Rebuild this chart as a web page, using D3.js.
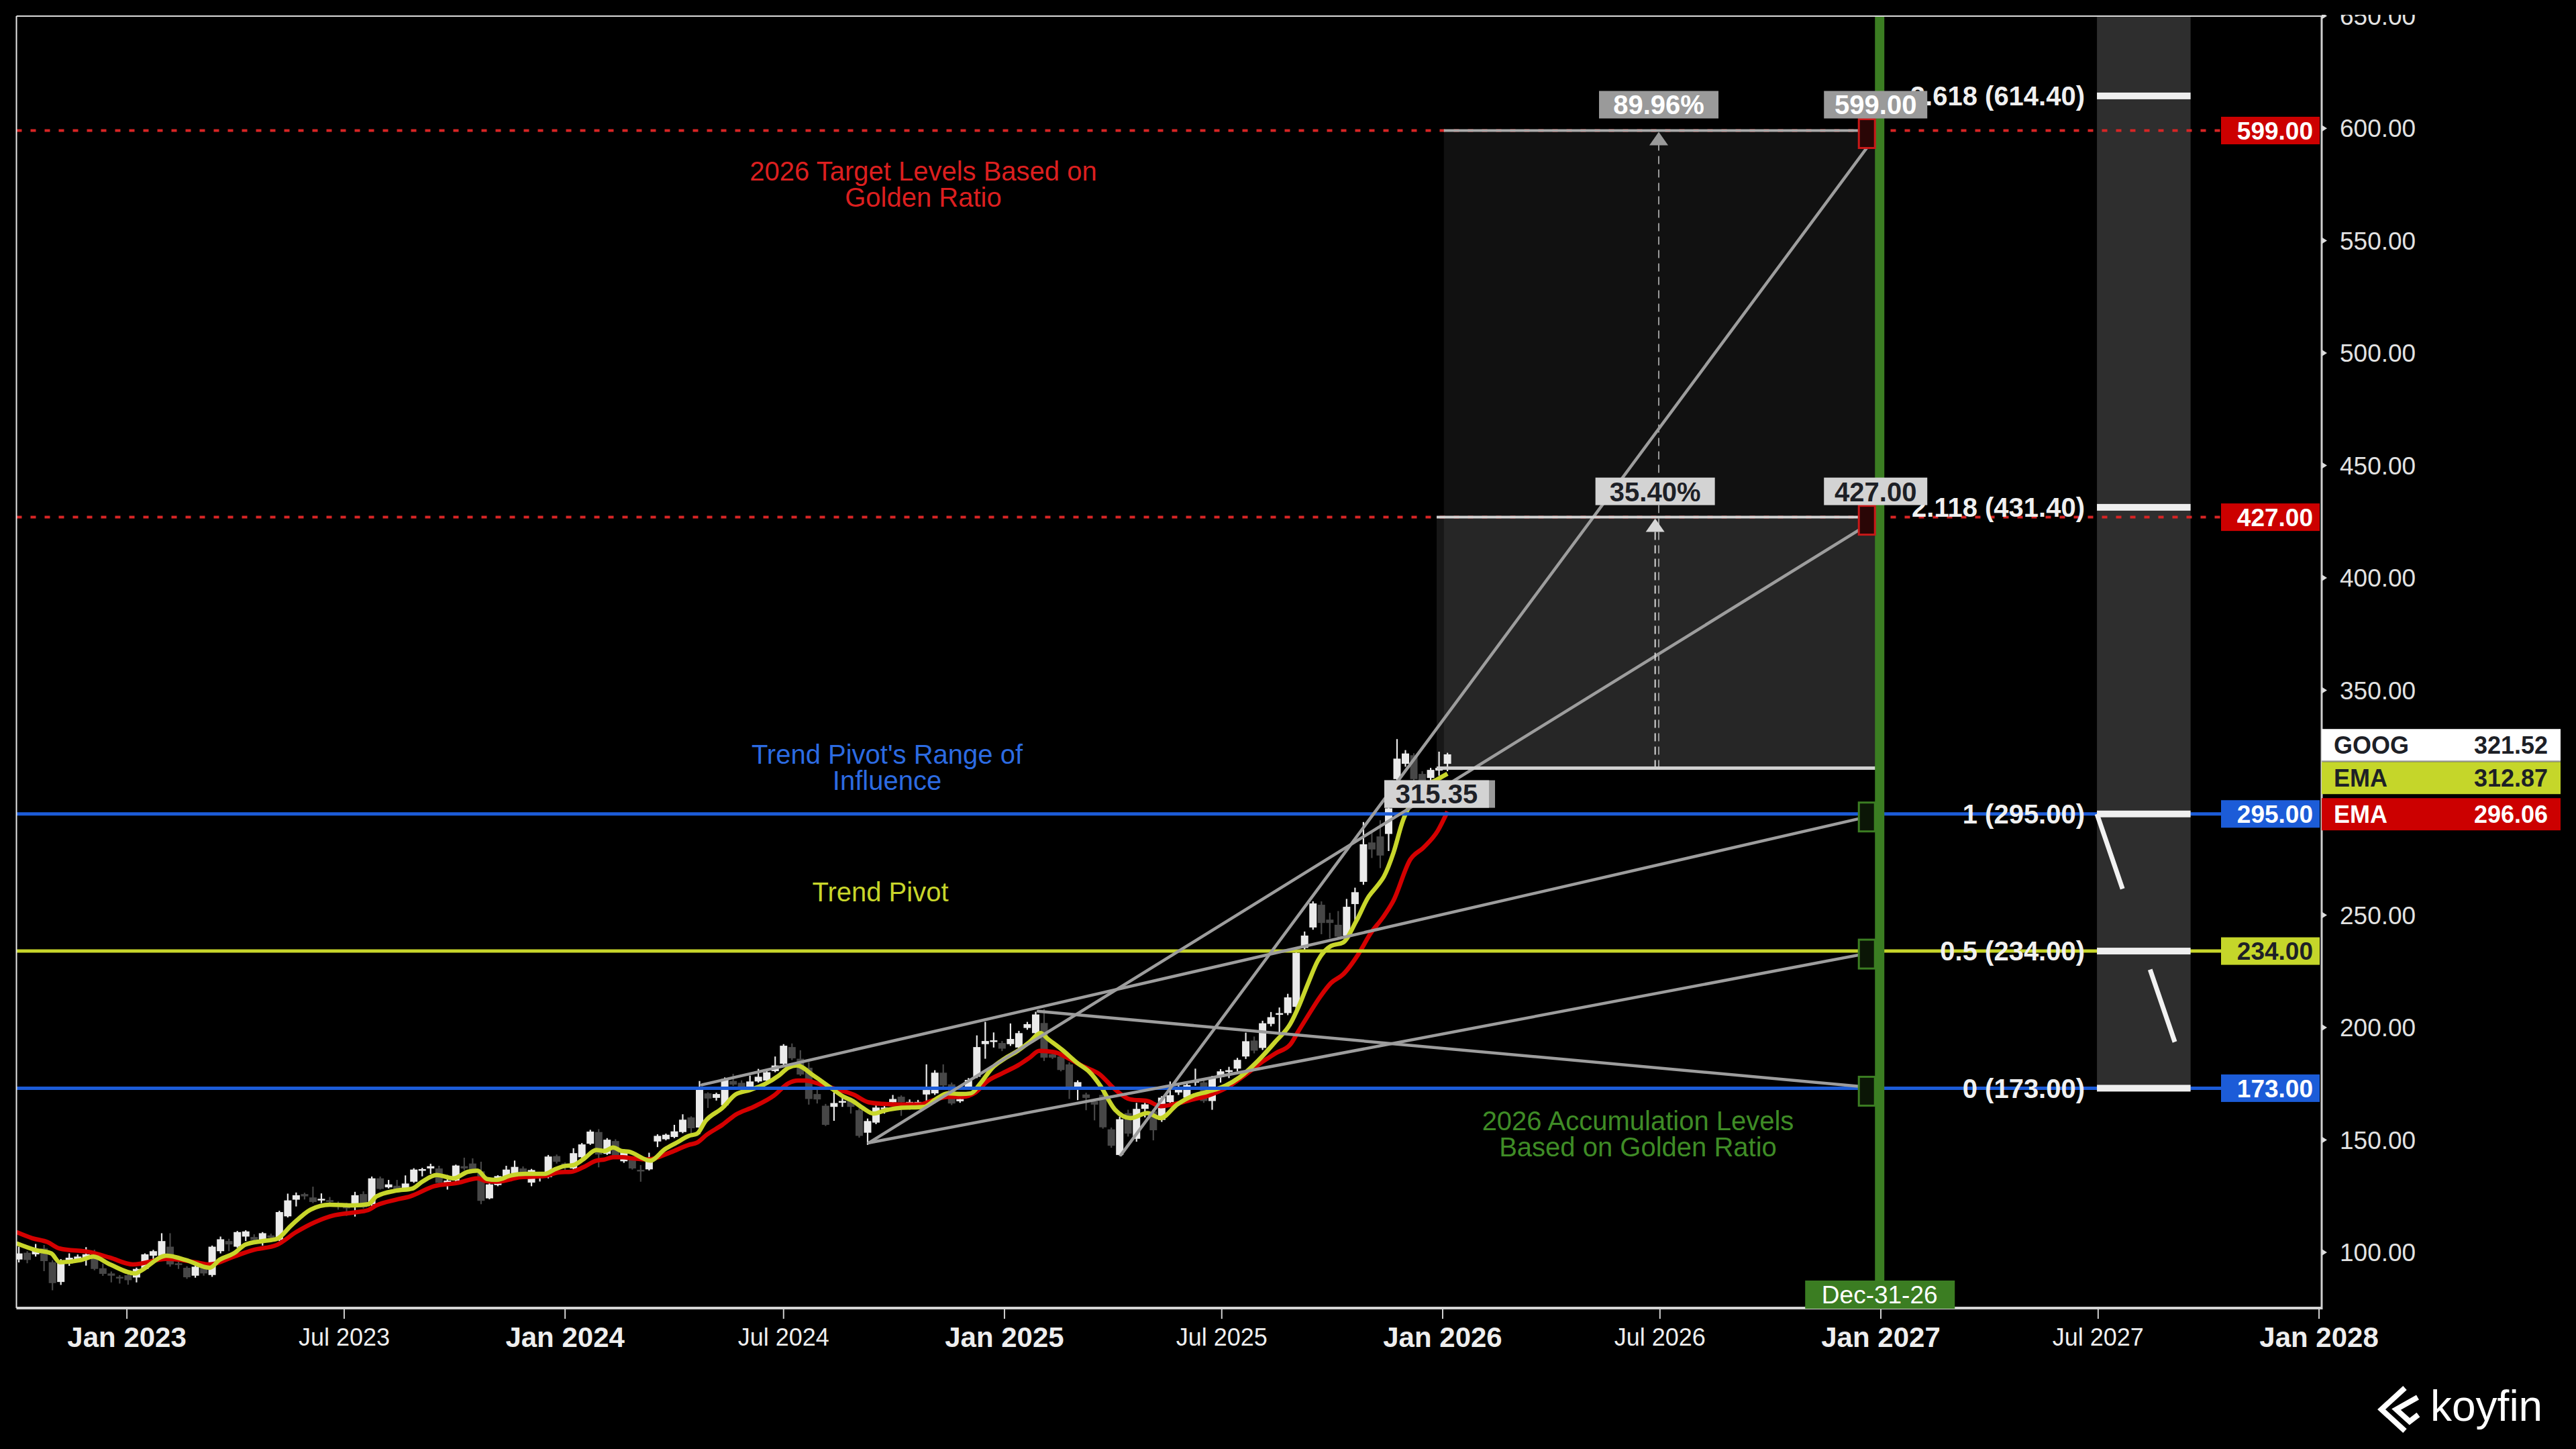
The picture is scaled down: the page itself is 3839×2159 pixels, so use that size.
<!DOCTYPE html>
<html><head><meta charset="utf-8">
<script src="https://cdn.jsdelivr.net/npm/d3@7"></script>
<style>html,body{margin:0;padding:0;background:#000;overflow:hidden}svg{display:block}</style>
</head><body>
<svg id="chart" width="3839" height="2159"></svg>
<script>
// ---------------- DATA ----------------
const candleDates = [
"2022-10-03","2022-10-10","2022-10-17","2022-10-24","2022-10-31","2022-11-07","2022-11-14","2022-11-21","2022-11-28","2022-12-05","2022-12-12","2022-12-19","2022-12-26",
"2023-01-02","2023-01-09","2023-01-16","2023-01-23","2023-01-30","2023-02-06","2023-02-13","2023-02-20","2023-02-27","2023-03-06","2023-03-13","2023-03-20","2023-03-27","2023-04-03","2023-04-10","2023-04-17","2023-04-24","2023-05-01","2023-05-08","2023-05-15","2023-05-22","2023-05-29","2023-06-05","2023-06-12","2023-06-19","2023-06-26","2023-07-03","2023-07-10","2023-07-17","2023-07-24","2023-07-31","2023-08-07","2023-08-14","2023-08-21","2023-08-28","2023-09-04","2023-09-11","2023-09-18","2023-09-25","2023-10-02","2023-10-09","2023-10-16","2023-10-23","2023-10-30","2023-11-06","2023-11-13","2023-11-20","2023-11-27","2023-12-04","2023-12-11","2023-12-18","2023-12-25",
"2024-01-01","2024-01-08","2024-01-15","2024-01-22","2024-01-29","2024-02-05","2024-02-12","2024-02-19","2024-02-26","2024-03-04","2024-03-11","2024-03-18","2024-03-25","2024-04-01","2024-04-08","2024-04-15","2024-04-22","2024-04-29","2024-05-06","2024-05-13","2024-05-20","2024-05-27","2024-06-03","2024-06-10","2024-06-17","2024-06-24","2024-07-01","2024-07-08","2024-07-15","2024-07-22","2024-07-29","2024-08-05","2024-08-12","2024-08-19","2024-08-26","2024-09-02","2024-09-09","2024-09-16","2024-09-23","2024-09-30","2024-10-07","2024-10-14","2024-10-21","2024-10-28","2024-11-04","2024-11-11","2024-11-18","2024-11-25","2024-12-02","2024-12-09","2024-12-16","2024-12-23","2024-12-30",
"2025-01-06","2025-01-13","2025-01-20","2025-01-27","2025-02-03","2025-02-10","2025-02-17","2025-02-24","2025-03-03","2025-03-10","2025-03-17","2025-03-24","2025-03-31","2025-04-07","2025-04-14","2025-04-21","2025-04-28","2025-05-05","2025-05-12","2025-05-19","2025-05-26","2025-06-02","2025-06-09","2025-06-16","2025-06-23","2025-06-30","2025-07-07","2025-07-14","2025-07-21","2025-07-28","2025-08-04","2025-08-11","2025-08-18","2025-08-25","2025-09-01","2025-09-08","2025-09-15","2025-09-22","2025-09-29","2025-10-06","2025-10-13","2025-10-20","2025-10-27","2025-11-03","2025-11-10","2025-11-17","2025-11-24","2025-12-01","2025-12-08","2025-12-15","2025-12-22","2025-12-29",
"2026-01-05"];

const opens = [96.8,99.8,99.1,101.7,95.6,86.8,95.1,96.6,97.1,99.7,92.9,90.6,89.1,
89.8,88.8,92.6,98.5,98.5,102.5,95.1,93.1,89.6,94.1,89.9,100.5,105.0,102.5,107.0,106.8,105.5,107.5,105.5,116.0,123.4,125.9,124.4,123.4,123.2,121.8,120.3,120.4,125.9,121.4,132.9,128.9,129.6,128.4,131.4,136.6,137.3,137.3,130.9,131.9,138.3,139.5,136.0,124.0,129.9,131.9,135.2,137.3,131.0,133.5,133.4,142.8,
139.5,137.3,142.3,148.3,153.5,143.8,149.5,140.5,141.3,136.7,136.9,149.3,150.3,151.3,153.5,160.0,155.5,170.7,168.7,165.4,176.2,175.4,173.4,176.0,176.4,180.6,183.9,191.3,186.1,182.1,170.4,165.2,164.7,167.0,167.7,163.2,153.2,157.7,164.0,166.7,169.2,166.3,166.5,170.2,170.7,179.9,174.7,167.2,173.2,178.1,192.6,194.0,193.1,
192.6,191.1,199.8,197.5,202.0,188.1,187.1,183.6,173.4,170.2,167.2,170.0,154.7,143.3,161.9,150.5,163.8,162.7,158.9,166.8,171.1,168.8,175.8,175.6,167.3,177.9,180.2,181.7,187.1,194.2,190.9,201.6,205.8,206.4,209.2,235.4,244.5,254.6,248.0,245.7,240.9,254.9,264.8,282.3,285.0,286.1,310.5,317.3,321.1,312.8,311.0,314.3,
317.3];

const highs = [102.5,100.5,103.7,103.3,96.5,97.0,99.5,99.0,102.3,101.2,95.0,91.5,89.8,
91.0,93.2,99.5,101.1,108.5,108.5,96.1,93.8,94.5,95.6,103.0,107.0,106.0,109.5,109.8,108.0,109.0,108.3,118.5,126.1,126.6,126.5,129.2,126.2,124.6,122.6,122.0,126.9,127.1,133.7,133.7,132.2,132.2,134.2,137.4,137.6,139.4,138.5,134.4,139.0,142.1,141.8,140.3,130.7,134.3,138.5,140.8,138.2,137.1,134.3,143.3,143.5,
140.0,146.3,148.6,154.5,154.8,150.8,150.3,145.8,142.0,138.8,144.3,152.5,152.8,156.7,161.4,160.5,176.2,171.2,171.0,177.8,179.4,176.5,178.6,181.6,181.0,187.1,192.6,192.9,189.9,184.6,173.7,166.0,171.2,169.2,168.5,164.0,159.5,165.5,165.7,170.0,169.8,168.0,167.8,183.6,181.0,183.6,175.5,169.5,177.5,196.5,202.5,197.8,194.0,
201.8,198.5,202.5,207.0,208.2,189.0,188.0,184.5,176.5,171.0,168.0,171.1,155.5,160.4,163.4,166.5,166.5,163.5,169.5,176.0,174.5,175.5,181.7,176.5,178.5,181.5,182.5,186.5,197.7,196.0,203.0,206.9,208.9,215.0,234.3,242.7,256.1,256.1,251.0,251.8,257.2,262.2,291.4,286.9,292.2,298.5,328.3,323.4,322.0,314.0,315.5,322.7,
322.2];

const lows = [95.5,95.1,98.1,91.6,83.1,85.5,94.0,95.5,94.1,92.0,89.5,86.6,86.1,
85.6,86.6,92.0,96.1,97.5,93.6,92.6,88.2,88.7,89.6,89.1,99.5,100.5,102.0,105.0,104.0,103.0,104.5,105.0,115.5,120.4,123.5,121.9,121.9,121.5,119.0,116.2,115.9,119.5,120.2,127.9,128.4,127.4,127.4,130.9,133.8,134.9,130.4,127.9,131.4,136.5,135.8,121.4,123.6,129.4,131.4,134.8,132.9,129.4,131.5,132.9,139.5,
136.5,136.8,141.8,147.8,137.8,143.3,141.8,139.8,136.8,131.4,136.4,146.8,149.8,150.8,153.0,152.5,152.5,164.2,167.5,164.5,174.0,171.5,172.5,175.5,175.8,180.1,183.4,185.5,178.5,165.7,166.2,156.2,158.5,164.7,161.7,151.0,147.8,157.0,161.7,165.2,160.7,163.5,165.0,167.2,170.0,173.5,165.5,166.5,172.5,177.5,186.1,191.1,189.5,
191.8,190.5,199.0,197.0,185.1,186.0,180.5,168.2,167.7,163.2,158.7,155.0,146.5,142.9,151.5,149.2,160.0,149.8,158.0,165.0,170.0,167.5,174.1,166.5,163.4,175.5,177.5,180.5,186.0,188.5,190.0,200.5,197.7,205.5,207.5,233.5,243.5,241.5,239.6,239.0,240.0,245.7,263.5,275.4,270.9,278.5,309.0,316.0,309.5,303.0,308.0,312.0,
314.0];

const closes = [99.5,96.6,100.6,96.1,86.3,95.6,97.6,98.1,99.1,92.6,90.4,89.6,88.6,
87.6,92.6,99.1,100.5,105.0,94.6,94.6,88.9,93.6,90.6,102.5,105.8,103.5,109.0,109.3,105.5,108.5,106.5,117.9,123.1,125.4,124.9,122.4,123.8,122.4,121.0,120.1,125.4,120.0,132.9,128.2,130.2,127.9,130.6,136.8,137.0,138.3,130.9,131.9,138.6,137.3,136.3,122.9,130.2,133.9,136.8,138.0,134.9,136.6,133.8,142.6,140.3,
138.5,144.1,148.0,153.7,143.5,150.1,143.1,145.3,137.3,136.3,140.8,151.8,152.3,153.8,159.0,155.2,173.4,168.4,170.4,177.1,174.6,173.4,176.0,178.1,180.1,183.1,191.9,186.3,179.1,168.2,168.0,156.7,166.4,167.3,164.7,151.8,158.4,164.4,164.4,168.2,166.7,166.9,166.9,172.2,179.9,174.2,166.2,168.2,176.7,191.3,194.0,194.3,190.6,
194.9,197.5,201.5,205.8,186.6,186.6,181.1,172.2,175.7,168.7,165.7,155.6,147.4,159.2,152.8,163.8,165.8,154.3,168.8,169.9,173.0,174.4,176.2,167.3,177.9,180.5,181.0,185.6,193.9,189.7,201.9,204.6,206.4,213.4,233.2,240.9,255.2,246.5,246.5,240.4,253.7,260.2,281.5,279.2,276.5,297.5,319.6,321.9,310.5,309.7,314.6,315.5,
321.5];

// EMA readings (date, value)
const emaFast = [["2022-10-01",104.0],["2022-10-17",101.0],["2022-10-30",99.5],["2022-11-06",95.6],["2022-11-24",96.6],["2022-12-04",98.1],["2022-12-18",94.6],["2023-01-08",90.6],["2023-01-12",91.6],["2023-02-03",98.5],["2023-02-19",96.6],["2023-03-11",93.1],["2023-03-19",96.6],["2023-03-31",99.5],["2023-04-10",103.5],["2023-04-24",105.0],["2023-05-06",106.0],["2023-05-18",112.0],["2023-06-03",119.0],["2023-06-19",121.2],["2023-07-09",120.9],["2023-07-21",121.4],["2023-07-28",124.9],["2023-08-13",127.4],["2023-08-27",128.4],["2023-09-04",131.4],["2023-09-16",134.4],["2023-09-30",132.9],["2023-10-12",135.8],["2023-10-20",136.3],["2023-10-28",132.6],["2023-11-05",132.2],["2023-11-17",134.2],["2023-11-29",134.9],["2023-12-15",134.9],["2023-12-23",136.8],["2023-12-31",138.3],["2024-01-08",138.8],["2024-01-16",141.3],["2024-01-27",145.5],["2024-02-03",145.1],["2024-02-10",146.6],["2024-02-17",145.1],["2024-02-23",144.8],["2024-03-12",140.8],["2024-03-24",145.8],["2024-04-03",148.8],["2024-04-13",151.8],["2024-04-20",152.8],["2024-04-27",158.4],["2024-05-11",164.2],["2024-05-22",170.2],["2024-06-03",172.2],["2024-06-15",174.7],["2024-06-27",178.6],["2024-07-05",182.1],["2024-07-12",183.1],["2024-07-26",178.6],["2024-08-08",173.7],["2024-08-20",169.2],["2024-08-28",167.2],["2024-09-05",164.2],["2024-09-14",161.7],["2024-09-24",163.2],["2024-10-05",164.2],["2024-10-26",164.7],["2024-11-05",168.2],["2024-11-15",170.7],["2024-11-26",170.4],["2024-12-04",170.7],["2024-12-12",175.2],["2024-12-22",182.1],["2025-01-01",186.1],["2025-01-12",189.6],["2025-01-22",193.6],["2025-01-31",197.5],["2025-02-06",195.0],["2025-02-18",190.1],["2025-03-03",184.1],["2025-03-13",180.1],["2025-03-22",174.0],["2025-04-03",163.5],["2025-04-16",159.7],["2025-04-30",161.9],["2025-05-11",159.7],["2025-05-25",165.8],["2025-06-07",169.6],["2025-06-19",171.4],["2025-07-04",174.1],["2025-07-16",177.9],["2025-07-31",185.1],["2025-08-15",193.9],["2025-08-27",201.5],["2025-09-03",209.2],["2025-09-11",219.8],["2025-09-19",229.7],["2025-09-30",236.3],["2025-10-10",237.8],["2025-10-21",247.3],["2025-10-31",257.9],["2025-11-08",263.3],["2025-11-13",267.1],["2025-11-21",277.7],["2025-11-29",292.2],["2025-12-05",299.1],["2025-12-16",306.7],["2025-12-28",310.5],["2026-01-05",312.9]];

const emaSlow = [["2022-10-01",109.0],["2022-10-14",106.3],["2022-10-27",104.5],["2022-11-06",101.7],["2022-12-02",100.0],["2022-12-18",97.6],["2023-01-06",94.6],["2023-02-03",97.1],["2023-02-27",95.6],["2023-03-11",94.6],["2023-03-31",98.1],["2023-04-16",101.0],["2023-05-06",103.3],["2023-05-22",109.0],["2023-06-07",113.5],["2023-06-23",116.5],["2023-07-09",117.7],["2023-07-21",118.8],["2023-07-28",120.9],["2023-08-13",123.4],["2023-08-25",124.9],["2023-09-14",129.4],["2023-10-04",130.9],["2023-10-20",132.9],["2023-10-28",131.6],["2023-11-05",131.4],["2023-11-25",133.4],["2023-12-15",133.9],["2023-12-27",135.6],["2024-01-06",135.8],["2024-01-16",137.8],["2024-01-27",140.8],["2024-02-03",141.3],["2024-02-10",142.3],["2024-02-18",142.3],["2024-02-26",141.8],["2024-03-10",141.3],["2024-03-29",144.5],["2024-04-13",147.8],["2024-04-20",148.8],["2024-04-28",152.3],["2024-05-11",156.7],["2024-05-22",161.2],["2024-06-06",164.7],["2024-06-23",169.7],["2024-07-05",175.2],["2024-07-13",176.4],["2024-07-19",176.4],["2024-07-30",175.0],["2024-08-13",172.7],["2024-08-28",170.2],["2024-09-10",166.7],["2024-09-22",166.0],["2024-10-05",165.7],["2024-10-22",165.7],["2024-11-03",167.7],["2024-11-15",169.2],["2024-11-27",169.2],["2024-12-08",171.2],["2024-12-18",176.2],["2024-12-30",179.6],["2025-01-12",183.1],["2025-01-22",186.6],["2025-01-30",189.6],["2025-02-11",189.1],["2025-02-24",186.1],["2025-03-08",182.6],["2025-03-21",179.3],["2025-04-03",172.5],["2025-04-16",168.0],["2025-04-30",167.3],["2025-05-11",165.0],["2025-05-27",166.5],["2025-06-07",168.0],["2025-06-19",169.6],["2025-07-04",172.9],["2025-07-20",178.7],["2025-08-04",184.8],["2025-08-15",188.6],["2025-08-27",192.4],["2025-09-03",198.5],["2025-09-11",205.4],["2025-09-21",213.7],["2025-09-30",219.8],["2025-10-10",223.6],["2025-10-23",232.8],["2025-11-02",241.9],["2025-11-12",248.8],["2025-11-21",256.4],["2025-12-05",274.7],["2025-12-16",280.0],["2025-12-28",287.6],["2026-01-05",296.1]];

// horizontal level lines
const levelValues = [599, 427, 295, 234, 173];
const levelKinds  = ["target","target","pivotRange","pivot","pivotRange"];
const levelTags   = ["599.00","427.00","295.00","234.00","173.00"];

// trend lines (start date, start value) -> (end date, end value)
const trendStartDates = ["2024-09-10","2024-09-10","2024-04-24","2025-01-29","2025-04-08"];
const trendStartValues = [148.7, 148.7, 174.5, 207.2, 143.3];
const trendEndDates = ["2026-12-31","2026-12-31","2026-12-31","2026-12-31","2026-12-31"];
const trendEndValues = [427, 234, 295, 173, 599];

// price range measurement tools
const rangeStartDates = ["2026-01-02","2025-12-27"];
const rangeEndDates = ["2026-12-31","2026-12-31"];
const rangeArrowDates = ["2026-06-30","2026-06-27"];
const rangeFrom = 315.35;
const rangeTo = [599, 427];
const rangePct = ["89.96%","35.40%"];

// target markers at the event line
const markerValues = [599, 427, 295, 234, 173];
const markerKinds = ["red","red","green","green","green"];

// fibonacci levels
const fibStart = "2027-06-30", fibEnd = "2027-09-16";
const fibValues = [614.40, 431.40, 295.00, 234.00, 173.00];
const fibLabels = ["2.618 (614.40)","2.118 (431.40)","1 (295.00)","0.5 (234.00)","0 (173.00)"];

const eventDate = "2026-12-31", eventLabel = "Dec-31-26";

const yTicks = [100,150,200,250,300,350,400,450,500,550,600,650];
const xTickDates = ["2023-01-01","2023-07-01","2024-01-01","2024-07-01","2025-01-01","2025-07-01","2026-01-01","2026-07-01","2027-01-01","2027-07-01","2028-01-01"];
const xTickLabels = ["Jan 2023","Jul 2023","Jan 2024","Jul 2024","Jan 2025","Jul 2025","Jan 2026","Jul 2026","Jan 2027","Jul 2027","Jan 2028"];

const legendNames = ["GOOG","EMA","EMA"];
const legendValues = [321.52, 312.87, 296.06];

const notes = [
  {lines:["2026 Target Levels Based on","Golden Ratio"], color:"#dc1f1f", x:1376, y:255},
  {lines:["Trend Pivot's Range of","Influence"], color:"#2c6be2", x:1322, y:1124},
  {lines:["Trend Pivot"], color:"#c8d62b", x:1312, y:1329},
  {lines:["2026 Accumulation Levels","Based on Golden Ratio"], color:"#3f8c26", x:2441, y:1670}
];

// ---------------- RENDER ----------------
const W = 3839, H = 2159;
const FONT = "'Liberation Sans', Arial, Helvetica, sans-serif";
const L = 24.5, R = 3460, T = 24, B = 1949;
const svg = d3.select("#chart");
svg.append("rect").attr("width", W).attr("height", H).attr("fill", "#000");
const parse = d3.utcParse("%Y-%m-%d");
const x = d3.scaleUtc().domain([parse("2022-10-01"), new Date(Date.UTC(2028,0,3,5))]).range([L, R]);
const y = d3.scaleLinear().domain([75.2, 649.9]).range([B, T]);
const X = s => x(parse(s));

const defs = svg.append("defs");
defs.append("clipPath").attr("id","plotClip").append("rect")
  .attr("x", L).attr("y", T).attr("width", R - L).attr("height", B - T);
defs.append("clipPath").attr("id","axisClip").append("rect")
  .attr("x", R - 5).attr("y", 22).attr("width", 400).attr("height", H);

const plot = svg.append("g").attr("clip-path","url(#plotClip)");

// range tool fills
const rangeOpac = [0.066, 0.09];
rangeTo.forEach((t, i) => {
  plot.append("rect")
    .attr("x", X(rangeStartDates[i])).attr("width", X(rangeEndDates[i]) - X(rangeStartDates[i]))
    .attr("y", y(t)).attr("height", y(rangeFrom) - y(t))
    .attr("fill", "#fff").attr("fill-opacity", rangeOpac[i]);
});

// fib band
const fx0 = X(fibStart), fx1 = X(fibEnd);
plot.append("rect").attr("x", fx0).attr("width", fx1 - fx0).attr("y", T)
  .attr("height", y(d3.min(fibValues)) - T).attr("fill", "#2e2e2e");

// candles
const cg = plot.append("g");
candleDates.forEach((d, i) => {
  const cx = X(d);
  const up = closes[i] >= opens[i];
  const col = up ? "#ebebeb" : "#474747";
  cg.append("line").attr("x1", cx).attr("x2", cx).attr("y1", y(highs[i])).attr("y2", y(lows[i]))
    .attr("stroke", col).attr("stroke-width", 2.2);
  const top = y(Math.max(opens[i], closes[i])), bot = y(Math.min(opens[i], closes[i]));
  cg.append("rect").attr("x", cx - 5.5).attr("width", 11).attr("y", top)
    .attr("height", Math.max(2.5, bot - top)).attr("fill", col);
});

// EMAs
const line = d3.line().x(d => X(d[0])).y(d => y(d[1])).curve(d3.curveMonotoneX);
plot.append("path").attr("d", line(emaSlow)).attr("fill","none").attr("stroke","#d40000")
  .attr("stroke-width", 6.5).attr("stroke-linejoin","round");
plot.append("path").attr("d", line(emaFast)).attr("fill","none").attr("stroke","#c8d62b")
  .attr("stroke-width", 6.5).attr("stroke-linejoin","round");

// level lines
const tagX0 = 3310;
const levelStyle = {
  target: {stroke:"#d82525", width:4, dash:"8 13"},
  pivotRange: {stroke:"#1c5cd8", width:5, dash:null},
  pivot: {stroke:"#c8d62b", width:5, dash:null}
};
levelValues.forEach((v, i) => {
  const st = levelStyle[levelKinds[i]];
  plot.append("line").attr("x1", L).attr("x2", tagX0).attr("y1", y(v)).attr("y2", y(v))
    .attr("stroke", st.stroke).attr("stroke-width", st.width)
    .attr("stroke-dasharray", st.dash);
});

// trend lines
trendStartDates.forEach((d, i) => {
  plot.append("line").attr("x1", X(d)).attr("y1", y(trendStartValues[i]))
    .attr("x2", X(trendEndDates[i])).attr("y2", y(trendEndValues[i]))
    .attr("stroke", "#9d9d9d").attr("stroke-width", 4.5).attr("stroke-linecap","round");
});

// range tool lines + arrows
const rangeLineCol = ["#a9a9a9", "#d2d2d2"];
const arrowCol = ["#9a9a9a", "#d6d6d6"];
rangeTo.forEach((t, i) => {
  plot.append("line").attr("x1", X(rangeStartDates[i])).attr("x2", X(rangeEndDates[i]))
    .attr("y1", y(t)).attr("y2", y(t)).attr("stroke", rangeLineCol[i]).attr("stroke-width", 4);
  const ax = X(rangeArrowDates[i]);
  plot.append("line").attr("x1", ax).attr("x2", ax).attr("y1", y(rangeFrom)).attr("y2", y(t) + 20)
    .attr("stroke", arrowCol[i]).attr("stroke-width", 2).attr("stroke-dasharray","12 8");
  plot.append("path").attr("d", `M${ax},${y(t)+2} L${ax-14},${y(t)+22} L${ax+14},${y(t)+22} Z`)
    .attr("fill", arrowCol[i]);
});
plot.append("line").attr("x1", d3.min(rangeStartDates, X)).attr("x2", X(rangeEndDates[0]))
  .attr("y1", y(rangeFrom)).attr("y2", y(rangeFrom)).attr("stroke", "#d0d0d0").attr("stroke-width", 5);

// fib bars + connector + labels
fibValues.forEach(v => {
  plot.append("rect").attr("x", fx0).attr("width", fx1 - fx0).attr("y", y(v) - 5).attr("height", 10).attr("fill", "#efefef");
});
plot.append("line").attr("x1", fx0).attr("y1", y(295)).attr("x2", fx1).attr("y2", y(173))
  .attr("stroke", "#f2f2f2").attr("stroke-width", 7).attr("stroke-dasharray", "118 127 114 300");
fibValues.forEach((v, i) => {
  plot.append("text").attr("x", fx0 - 18).attr("y", y(v)).attr("dy", "0.36em")
    .attr("text-anchor", "end").attr("font-family", FONT).attr("font-size", 40).attr("font-weight", 700)
    .attr("fill", "#f0f0f0").text(fibLabels[i]);
});

// event (green) line
const ex = X(eventDate);
plot.append("rect").attr("x", ex - 7).attr("width", 14).attr("y", T).attr("height", 1908 - T).attr("fill", "#3b7d22");

// markers
markerValues.forEach((v, i) => {
  const red = markerKinds[i] === "red";
  plot.append("rect").attr("x", ex - 31).attr("width", 24).attr("y", y(v) - 17).attr("height", 43)
    .attr("fill", red ? "#2a0606" : "#0b1606").attr("stroke", red ? "#c81818" : "#3b7d22").attr("stroke-width", 3);
});

// range labels
function labelBox(cx, top, w, h, txt, bg, fg, shadow) {
  if (shadow) plot.append("rect").attr("x", cx - w/2).attr("y", top).attr("width", w + 9).attr("height", h).attr("fill", "#9a9a9a");
  plot.append("rect").attr("x", cx - w/2).attr("y", top).attr("width", w).attr("height", h).attr("fill", bg);
  plot.append("text").attr("x", cx).attr("y", top + h/2).attr("dy", "0.36em").attr("text-anchor", "middle")
    .attr("font-family", FONT).attr("font-size", 40).attr("font-weight", 700).attr("fill", fg).text(txt);
}
const rangeLabelBg = ["#9a9a9a", "#d3d3d3"];
const rangeLabelFg = ["#ffffff", "#1d2026"];
rangeTo.forEach((t, i) => {
  labelBox(X(rangeArrowDates[i]), y(t) - 59, 178, 41, rangePct[i], rangeLabelBg[i], rangeLabelFg[i], false);
  labelBox(X(rangeEndDates[i]) - 6, y(t) - 59, 154, 41, d3.format(".2f")(t), rangeLabelBg[i], rangeLabelFg[i], false);
});
labelBox(X(rangeStartDates[1]) + 0, y(rangeFrom) + 18, 156, 41, d3.format(".2f")(rangeFrom), "#d3d3d3", "#1d2026", true);

// annotation notes
notes.forEach(n => {
  n.lines.forEach((t, j) => {
    plot.append("text").attr("x", n.x).attr("y", n.y + j * 39).attr("dy", "0.36em").attr("text-anchor", "middle")
      .attr("font-family", FONT).attr("font-size", 40).attr("fill", n.color).text(t);
  });
});

// ---------------- AXES / FRAME ----------------
svg.append("line").attr("x1", L).attr("x2", R).attr("y1", T).attr("y2", T).attr("stroke", "#dcdcdc").attr("stroke-width", 2);
svg.append("line").attr("x1", L).attr("x2", L).attr("y1", T).attr("y2", B).attr("stroke", "#e8e8e8").attr("stroke-width", 2);
svg.append("line").attr("x1", R).attr("x2", R).attr("y1", T - 1).attr("y2", B + 2).attr("stroke", "#cfcfcf").attr("stroke-width", 3);
svg.append("line").attr("x1", L).attr("x2", R + 1).attr("y1", B).attr("y2", B).attr("stroke", "#d4d4d4").attr("stroke-width", 4);

// x ticks
xTickDates.forEach((d, i) => {
  const tx = X(d);
  svg.append("line").attr("x1", tx).attr("x2", tx).attr("y1", B + 2).attr("y2", B + 16).attr("stroke", "#cfcfcf").attr("stroke-width", 2);
  const jan = xTickLabels[i].startsWith("Jan");
  svg.append("text").attr("x", tx).attr("y", jan ? 2007 : 2005).attr("text-anchor", "middle")
    .attr("font-family", FONT).attr("font-size", jan ? 42 : 36).attr("font-weight", jan ? 700 : 400)
    .attr("fill", "#eeeeee").text(xTickLabels[i]);
});

// legend layout (stacked upward from the lowest value)
const boxH = 48;
const centers = [];
centers[2] = y(legendValues[2]) + 4;
centers[1] = centers[2] - boxH - 6;
centers[0] = centers[1] - boxH - 1;
const legendTop = centers[0] - boxH/2, legendBottom = centers[2] + boxH/2;

// y ticks (labels hidden where the legend covers them)
const yax = svg.append("g").attr("clip-path", "url(#axisClip)");
yTicks.forEach(v => {
  const ty = y(v);
  yax.append("path").attr("d", `M${R},${ty-5} L${R+8},${ty} L${R},${ty+5} Z`).attr("fill", "#dddddd");
  if (ty > legendTop - 14 && ty < legendBottom + 14) return;
  yax.append("text").attr("x", 3487).attr("y", ty).attr("dy", "0.36em").attr("font-family", FONT)
    .attr("font-size", 37).attr("fill", "#e2e2e2").text(d3.format(".2f")(v));
});

// price tags
const tagBg = {target:"#cc0000", pivotRange:"#1c5cd8", pivot:"#c5d62a"};
const tagFg = {target:"#ffffff", pivotRange:"#ffffff", pivot:"#1d2026"};
levelValues.forEach((v, i) => {
  const k = levelKinds[i];
  svg.append("rect").attr("x", tagX0).attr("y", y(v) - 20.5).attr("width", R - 3 - tagX0).attr("height", 41).attr("fill", tagBg[k]);
  svg.append("text").attr("x", 3447).attr("y", y(v)).attr("dy", "0.36em").attr("text-anchor", "end")
    .attr("font-family", FONT).attr("font-size", 37).attr("font-weight", 700).attr("fill", tagFg[k]).text(levelTags[i]);
});

// legend boxes
const legBg = ["#ffffff", "#c5d62a", "#cc0000"];
const legFg = ["#1d2026", "#1d2026", "#ffffff"];
legendNames.forEach((n, i) => {
  svg.append("rect").attr("x", R).attr("y", centers[i] - boxH/2).attr("width", 356).attr("height", boxH).attr("fill", legBg[i]);
  svg.append("text").attr("x", 3478).attr("y", centers[i]).attr("dy", "0.36em").attr("font-family", FONT)
    .attr("font-size", 36).attr("font-weight", 700).attr("fill", legFg[i]).text(n);
  svg.append("text").attr("x", 3797).attr("y", centers[i]).attr("dy", "0.36em").attr("text-anchor", "end").attr("font-family", FONT)
    .attr("font-size", 36).attr("font-weight", 700).attr("fill", legFg[i]).text(d3.format(".2f")(legendValues[i]));
});
svg.append("line").attr("x1", R).attr("x2", R + 356).attr("y1", centers[0] + boxH/2).attr("y2", centers[0] + boxH/2)
  .attr("stroke", "#9a9a9a").attr("stroke-width", 2);

// event date tag
svg.append("rect").attr("x", ex - 111).attr("y", 1908).attr("width", 223).attr("height", 42).attr("fill", "#3b7d22");
svg.append("text").attr("x", ex).attr("y", 1929).attr("dy", "0.36em").attr("text-anchor", "middle")
  .attr("font-family", FONT).attr("font-size", 37).attr("fill", "#ffffff").text(eventLabel);

// logo
const lg = svg.append("g");
lg.append("path").attr("d", "M3584,2068 L3549,2100 L3584,2132").attr("fill", "none").attr("stroke", "#fff").attr("stroke-width", 8).attr("stroke-linejoin","miter");
lg.append("path").attr("d", "M3603,2082 L3571,2100 L3591,2118 L3604,2108").attr("fill", "none").attr("stroke", "#fff").attr("stroke-width", 8).attr("stroke-linejoin","miter");
lg.append("text").attr("x", 3622).attr("y", 2117).attr("font-family", FONT).attr("font-size", 64).attr("fill", "#ffffff").text("koyfin");
</script>
</body></html>
